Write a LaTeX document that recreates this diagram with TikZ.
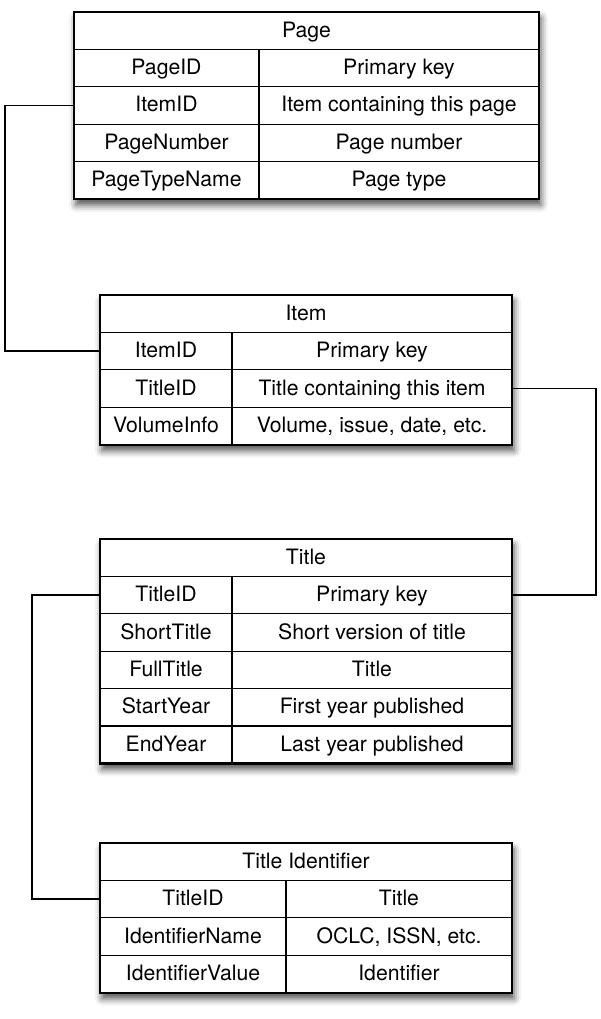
\documentclass[tikz,border=0pt]{standalone}
\usepackage{fontspec}
\setmainfont{TeX Gyre Heros}
\usetikzlibrary{positioning,shadows.blur}
\pgfdeclarelayer{background}
\pgfsetlayers{background,main}

\begin{document}
\begin{tikzpicture}[x=1pt,y=1pt,
 cell/.style={draw,line width=1.3pt,inner sep=0pt,outer sep=0pt,minimum height=37.4pt,
 text height=17pt,text depth=4pt,font=\fontsize{21.2}{25}\selectfont},
 frame/.style={draw,line width=2.2pt,fill=white,blur shadow={shadow xshift=2pt,
 shadow yshift=-6pt,shadow blur radius=7pt,shadow opacity=70}},
 link/.style={draw,line width=1.5pt}]
\useasboundingbox (0,0) rectangle (600,-1019);
% Page
\node[cell,minimum width=465pt,anchor=north west] (page) at (74,-12) {Page};
\foreach \k/\v [count=\i] in {PageID/Primary key,ItemID/Item containing this page,
 PageNumber/Page number,PageTypeName/Page type}{
 \node[cell,minimum width=185pt,anchor=north west,yshift={-(\i-1)*37.4pt}] (pk\i) at (page.south west) {\k};
 \node[cell,minimum width=280pt,right=0pt of pk\i] (pv\i) {\v};
}
% Item
\node[cell,minimum width=412pt,anchor=north west] (item) at (100,-295) {Item};
\foreach \k/\v [count=\i] in {ItemID/Primary key,TitleID/Title containing this item,
 VolumeInfo/{Volume, issue, date, etc.}}{
 \node[cell,minimum width=132pt,anchor=north west,yshift={-(\i-1)*37.4pt}] (ik\i) at (item.south west) {\k};
 \node[cell,minimum width=280pt,right=0pt of ik\i] (iv\i) {\v};
}
% Title
\node[cell,minimum width=412pt,anchor=north west] (title) at (100,-539) {Title};
\foreach \k/\v [count=\i] in {TitleID/Primary key,ShortTitle/Short version of title,
 FullTitle/Title,StartYear/First year published,EndYear/Last year published}{
 \node[cell,minimum width=132pt,anchor=north west,yshift={-(\i-1)*37.4pt}] (tk\i) at (title.south west) {\k};
 \node[cell,minimum width=280pt,right=0pt of tk\i] (tv\i) {\v};
}
% Title Identifier
\node[cell,minimum width=412pt,anchor=north west] (ident) at (100,-843) {Title Identifier};
\foreach \k/\v [count=\i] in {TitleID/Title,IdentifierName/{OCLC, ISSN, etc.},
 IdentifierValue/Identifier}{
 \node[cell,minimum width=186pt,anchor=north west,yshift={-(\i-1)*37.4pt}] (dk\i) at (ident.south west) {\k};
 \node[cell,minimum width=226pt,right=0pt of dk\i] (dv\i) {\v};
}
\begin{pgfonlayer}{background}
\path[frame] (page.north west) rectangle (pv4.south east);
\path[frame] (item.north west) rectangle (iv3.south east);
\path[frame] (title.north west) rectangle (tv5.south east);
\path[frame] (ident.north west) rectangle (dv3.south east);
\end{pgfonlayer}
% links
\draw[link] (pk2.west) -- ++(-69,0) |- (ik1.west);
\draw[link] (iv2.east) -- ++(84,0) |- (tv1.east);
\draw[link] (tk1.west) -- ++(-68,0) |- (dk1.west);
\end{tikzpicture}
\end{document}
